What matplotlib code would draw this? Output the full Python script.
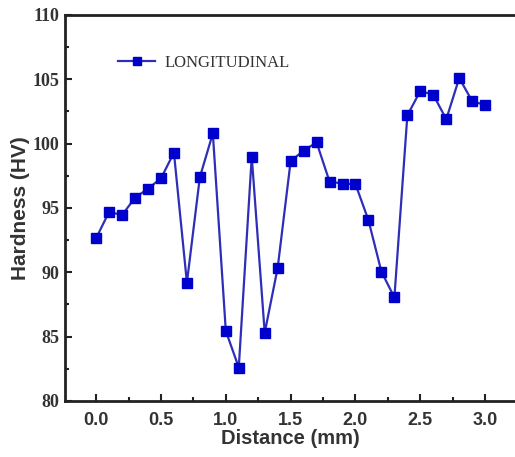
import matplotlib
matplotlib.use("Agg")
import matplotlib.pyplot as plt
from matplotlib.ticker import MultipleLocator

distance = [0.0, 0.1, 0.2, 0.3, 0.4, 0.5, 0.6, 0.7, 0.8, 0.9, 1.0,
            1.1, 1.2, 1.3, 1.4, 1.5, 1.6, 1.7, 1.8, 1.9, 2.0,
            2.1, 2.2, 2.3, 2.4, 2.5, 2.6, 2.7, 2.8, 2.9, 3.0]
hardness = [92.65, 94.7, 94.45, 95.8, 96.5, 97.3, 99.3, 89.2, 97.4, 100.8, 85.45,
            82.6, 99.0, 85.3, 90.35, 98.65, 99.45, 100.1, 97.05, 96.9, 96.85,
            94.05, 90.05, 88.05, 102.2, 104.1, 103.8, 101.9, 105.1, 103.3, 103.0]
x_ticks = [0.0, 0.5, 1.0, 1.5, 2.0, 2.5, 3.0]
y_ticks = [80, 85, 90, 95, 100, 105, 110]

fig = plt.figure(figsize=(5.15, 4.57), dpi=100)
ax = fig.add_axes([65/515, 1-401/457, 1-65/515, (401-15)/457])

ax.plot(distance, hardness, color="#2e2eb8", lw=1.6, marker="s", ms=6.5,
        markerfacecolor="#0000cc", markeredgecolor="#0000cc", label="LONGITUDINAL")

ax.set_xlim(-0.24, 3.23)
ax.set_ylim(80, 110)
ax.set_xticks(x_ticks)
ax.set_xticklabels([f"{v:.1f}" for v in x_ticks],
                   fontfamily="Liberation Sans", fontweight="bold", fontsize=13, color="#333333")
ax.set_yticks(y_ticks)
ax.set_yticklabels([str(v) for v in y_ticks],
                   fontfamily="Liberation Serif", fontweight="bold", fontsize=13, color="#333333")
ax.xaxis.set_minor_locator(MultipleLocator(0.25))
ax.yaxis.set_minor_locator(MultipleLocator(2.5))
ax.tick_params(which="both", direction="in", top=False, right=False, width=1.5, color="#222222")
ax.tick_params(which="major", length=5)
ax.tick_params(axis="x", which="major", pad=8)
ax.tick_params(axis="y", which="major", pad=4)
ax.tick_params(which="minor", length=3)

for s in ["left", "bottom", "top"]:
    ax.spines[s].set_linewidth(2)
    ax.spines[s].set_color("#222222")
ax.spines["right"].set_visible(False)

ax.set_xlabel("Distance (mm)", fontfamily="Liberation Sans", fontweight="bold",
              fontsize=14.5, color="#333333", labelpad=0)
ax.set_ylabel("Hardness (HV)", fontfamily="Liberation Sans", fontweight="bold",
              fontsize=15, color="#333333", labelpad=2)

leg = ax.legend(loc="upper left", bbox_to_anchor=(0.085, 0.935), frameon=False,
                prop={"family": "Liberation Serif", "size": 12}, handlelength=2.2,
                handletextpad=0.6, markerscale=0.85)
for t in leg.get_texts():
    t.set_color("#333333")

fig.savefig("out.png", dpi=100)
